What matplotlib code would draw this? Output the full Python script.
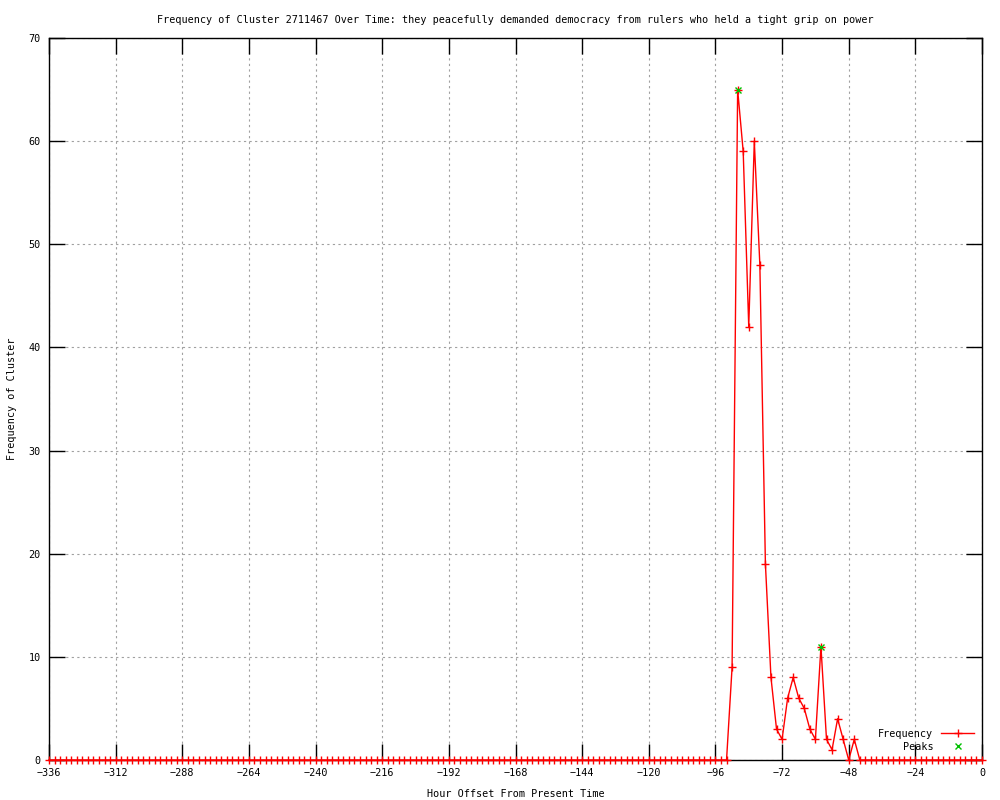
import numpy as np
import matplotlib
matplotlib.use('Agg')
import matplotlib.pyplot as plt

# hour offsets, every 2 hours
hours = list(range(-336, 2, 2))

# non-zero frequencies (everything else is 0)
nonzero = {
    -90: 9, -88: 65, -86: 59, -84: 42, -82: 60, -80: 48, -78: 19,
    -76: 8, -74: 3, -72: 2, -70: 6, -68: 8, -66: 6, -64: 5, -62: 3,
    -60: 2, -58: 11, -56: 2, -54: 1, -52: 4, -50: 2, -48: 0, -46: 2,
}
freq = [nonzero.get(h, 0) for h in hours]

peak_hours = [-88, -58]
peak_vals = [65, 11]

title = ("Frequency of Cluster 2711467 Over Time: they peacefully demanded "
         "democracy from rulers who held a tight grip on power")

plt.rcParams['font.family'] = ['DejaVu Sans Mono']
fs = 7.3

fig = plt.figure(figsize=(10, 8), dpi=100)
ax = fig.add_axes([0.049, 0.05, 0.933, 0.9025])

ax.plot(hours, freq, color='red', lw=1, marker='+', ms=5.5, mew=1,
        label='Frequency', clip_on=False, zorder=3)
ax.plot(peak_hours, peak_vals, ls='none', color='#00c000', marker='x',
        ms=5, mew=1, label='Peaks', clip_on=False, zorder=4)

ax.set_xlim(-336, 0)
ax.set_ylim(0, 70)
ax.set_xticks(range(-336, 1, 24))
ax.set_yticks(range(0, 71, 10))
ax.grid(True, color='#a0a0a0', ls=(0, (2, 3)), lw=0.8)
ax.tick_params(direction='in', length=11.5, width=1, top=True, right=True,
               labelsize=fs, pad=6)
for s in ax.spines.values():
    s.set_linewidth(1)

ax.set_title(title, fontsize=fs, pad=11)
ax.set_xlabel('Hour Offset From Present Time', fontsize=fs, labelpad=8)
ax.set_ylabel('Frequency of Cluster', fontsize=fs, labelpad=8)

leg = ax.legend(loc='lower right', frameon=False, fontsize=fs,
                markerfirst=False, handlelength=3.2, labelspacing=0.3,
                borderaxespad=0.4)
for t in leg.get_texts():
    t.set_ha('right')

fig.savefig('out.png', dpi=100)
